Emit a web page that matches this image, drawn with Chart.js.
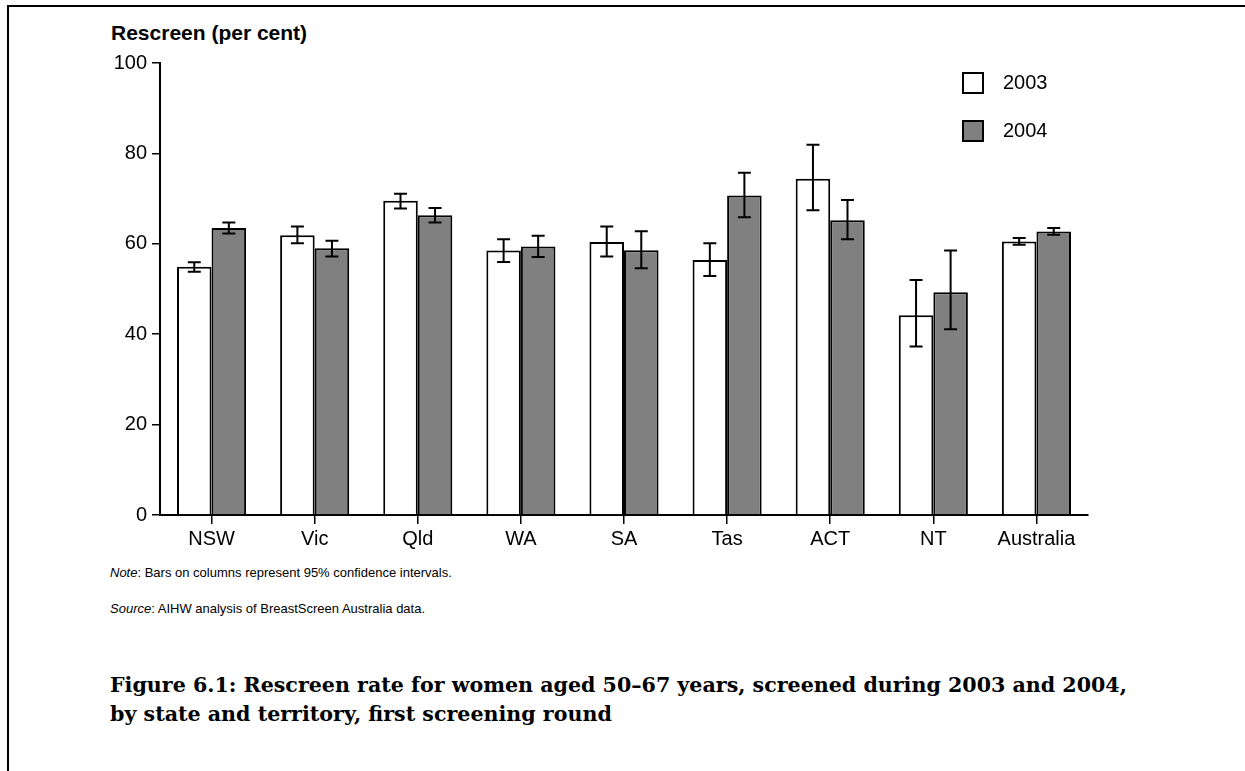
<!DOCTYPE html>
<html>
<head>
<meta charset="utf-8">
<script src="https://cdn.jsdelivr.net/npm/chart.js@4/dist/chart.umd.min.js"></script>
<style>
    body { margin: 0; background: #fff; width: 1245px; height: 771px; overflow: hidden; position: relative; font-family: "Liberation Sans", Arial, sans-serif; color: #000; }
    .frame { position: absolute; left: 7px; top: 5px; right: 0; bottom: -5px; border-left: 2px solid #000; border-top: 2px solid #000; }
    .y-title { position: absolute; left: 111px; top: 21px; font-size: 21px; font-weight: bold; }
    #chart-wrap { position: absolute; left: 100px; top: 46px; width: 1000px; height: 514px; }
    .legend { position: absolute; left: 962px; top: 72px; }
    .legend-item { position: relative; height: 48px; }
    .legend-box { position: absolute; left: 0; top: 0; width: 18px; height: 18px; border: 2px solid #000; }
    .legend-text { position: absolute; left: 41px; top: -2px; font-size: 20px; line-height: 24px; }
    .note { position: absolute; left: 110px; font-size: 13px; }
    .caption { position: absolute; left: 110px; top: 671px; font-family: "DejaVu Serif", "Liberation Serif", serif; font-weight: bold; font-size: 20.6px; line-height: 29px; }
</style>
</head>
<body>
<div class="frame"></div>
<div class="y-title">Rescreen (per cent)</div>
<div id="chart-wrap"><canvas id="chart" width="1000" height="514"></canvas></div>
<div class="legend">
    <div class="legend-item"><span class="legend-box" style="background:#fff"></span><span class="legend-text">2003</span></div>
    <div class="legend-item"><span class="legend-box" style="background:#808080"></span><span class="legend-text">2004</span></div>
</div>
<div class="note" style="top:565px"><i>Note</i>: Bars on columns represent 95% confidence intervals.</div>
<div class="note" style="top:601px"><i>Source</i>: AIHW analysis of BreastScreen Australia data.</div>
<div class="caption">Figure 6.1: Rescreen rate for women aged 50–67 years, screened during 2003 and 2004,<br>by state and territory, first screening round</div>
<script>
// values (per cent), with 95% CI ends
const categories = ['NSW', 'Vic', 'Qld', 'WA', 'SA', 'Tas', 'ACT', 'NT', 'Australia'];
const rate2003 = [54.9, 61.9, 69.5, 58.5, 60.4, 56.4, 74.4, 44.2, 60.5];
const low2003  = [53.8, 60.1, 67.8, 56.0, 57.2, 52.9, 67.4, 37.3, 59.8];
const high2003 = [55.9, 63.8, 71.1, 61.0, 63.8, 60.1, 81.9, 52.0, 61.3];
const rate2004 = [63.5, 59.0, 66.3, 59.4, 58.6, 70.7, 65.2, 49.3, 62.7];
const low2004  = [62.3, 57.2, 64.7, 57.1, 54.6, 65.9, 61.0, 41.1, 62.0];
const high2004 = [64.7, 60.7, 67.9, 61.8, 62.8, 75.7, 69.7, 58.5, 63.5];
const yTicks = [0, 20, 40, 60, 80, 100];

const tickFont = { family: '"Liberation Sans", Arial, sans-serif', size: 20 };

// draws the CI whiskers on top of each bar
const errorBars = {
    id: 'errorBars',
    afterDatasetsDraw(chart) {
        const ctx = chart.ctx;
        const y = chart.scales.y;
        chart.data.datasets.forEach((ds, i) => {
            const meta = chart.getDatasetMeta(i);
            meta.data.forEach((bar, j) => {
                const top = y.getPixelForValue(ds.ciHigh[j]);
                const bot = y.getPixelForValue(ds.ciLow[j]);
                const x = bar.x;
                ctx.save();
                ctx.strokeStyle = '#000';
                ctx.lineWidth = 2;
                ctx.beginPath();
                ctx.moveTo(x, top); ctx.lineTo(x, bot);
                ctx.moveTo(x - 6.5, top); ctx.lineTo(x + 6.5, top);
                ctx.moveTo(x - 6.5, bot); ctx.lineTo(x + 6.5, bot);
                ctx.stroke();
                ctx.restore();
            });
        });
    }
};

new Chart(document.getElementById('chart'), {
    type: 'bar',
    data: {
        labels: categories,
        datasets: [
            { label: '2003', data: rate2003, ciLow: low2003, ciHigh: high2003, backgroundColor: '#ffffff', borderColor: '#000', borderWidth: 2, categoryPercentage: 0.67, barPercentage: 1.0 },
            { label: '2004', data: rate2004, ciLow: low2004, ciHigh: high2004, backgroundColor: '#808080', borderColor: '#000', borderWidth: 2, categoryPercentage: 0.67, barPercentage: 1.0 }
        ]
    },
    options: {
        responsive: false,
        animation: false,
        devicePixelRatio: 1,
        layout: { padding: { top: 12, right: 12, left: 0, bottom: 0 } },
        plugins: { legend: { display: false }, tooltip: { enabled: false } },
        scales: {
            x: {
                grid: { offset: false, drawOnChartArea: false, drawTicks: true, tickLength: 9, color: '#000', lineWidth: 1.5 },
                border: { display: true, color: '#000', width: 2 },
                ticks: { color: '#000', font: tickFont, padding: 3, maxRotation: 0 },
                afterFit(scale) { scale.height = 45; }
            },
            y: {
                min: 0, max: 100,
                afterBuildTicks(scale) { scale.ticks = yTicks.map(v => ({ value: v })); },
                grid: { drawOnChartArea: false, drawTicks: true, tickLength: 8, color: '#000', lineWidth: 1.5 },
                border: { display: true, color: '#000', width: 2 },
                ticks: { color: '#000', font: tickFont, padding: 5 },
                afterFit(scale) { scale.width = 60; }
            }
        }
    },
    plugins: [errorBars]
});
</script>
</body>
</html>
